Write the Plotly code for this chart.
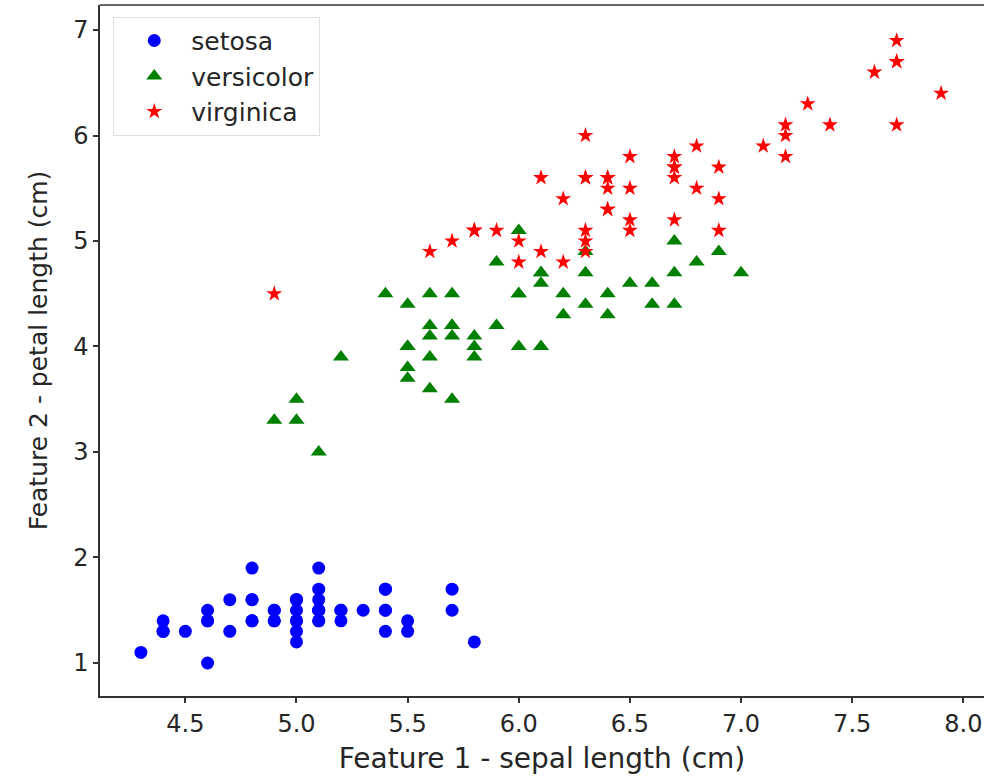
import plotly.graph_objects as go

setosa_x = [5.1,4.9,4.7,4.6,5.0,5.4,4.6,5.0,4.4,4.9,5.4,4.8,4.8,4.3,5.8,5.7,5.4,5.1,5.7,5.1,
            5.4,5.1,4.6,5.1,4.8,5.0,5.0,5.2,5.2,4.7,4.8,5.4,5.2,5.5,4.9,5.0,5.5,4.9,4.4,5.1,
            5.0,4.5,4.4,5.0,5.1,4.8,5.1,4.6,5.3,5.0]
setosa_y = [1.4,1.4,1.3,1.5,1.4,1.7,1.4,1.5,1.4,1.5,1.5,1.6,1.4,1.1,1.2,1.5,1.3,1.4,1.7,1.5,
            1.7,1.5,1.0,1.7,1.9,1.6,1.6,1.5,1.4,1.6,1.6,1.5,1.5,1.4,1.5,1.2,1.3,1.4,1.3,1.5,
            1.3,1.3,1.3,1.6,1.9,1.4,1.6,1.4,1.5,1.4]
versicolor_x = [7.0,6.4,6.9,5.5,6.5,5.7,6.3,4.9,6.6,5.2,5.0,5.9,6.0,6.1,5.6,6.7,5.6,5.8,6.2,5.6,
                5.9,6.1,6.3,6.1,6.4,6.6,6.8,6.7,6.0,5.7,5.5,5.5,5.8,6.0,5.4,6.0,6.7,6.3,5.6,5.5,
                5.5,6.1,5.8,5.0,5.6,5.7,5.7,6.2,5.1,5.7]
versicolor_y = [4.7,4.5,4.9,4.0,4.6,4.5,4.7,3.3,4.6,3.9,3.5,4.2,4.0,4.7,3.6,4.4,4.5,4.1,4.5,3.9,
                4.8,4.0,4.9,4.7,4.3,4.4,4.8,5.0,4.5,3.5,3.8,3.7,3.9,5.1,4.5,4.5,4.7,4.4,4.1,4.0,
                4.4,4.6,4.0,3.3,4.2,4.2,4.2,4.3,3.0,4.1]
virginica_x = [6.3,5.8,7.1,6.3,6.5,7.6,4.9,7.3,6.7,7.2,6.5,6.4,6.8,5.7,5.8,6.4,6.5,7.7,7.7,6.0,
               6.9,5.6,7.7,6.3,6.7,7.2,6.2,6.1,6.4,7.2,7.4,7.9,6.4,6.3,6.1,7.7,6.3,6.4,6.0,6.9,
               6.7,6.9,5.8,6.8,6.7,6.7,6.3,6.5,6.2,5.9]
virginica_y = [6.0,5.1,5.9,5.6,5.8,6.6,4.5,6.3,5.8,6.1,5.1,5.3,5.5,5.0,5.1,5.3,5.5,6.7,6.9,5.0,
               5.7,4.9,6.7,4.9,5.7,6.0,4.8,4.9,5.6,5.8,6.1,6.4,5.6,5.1,5.6,6.1,5.6,5.5,4.8,5.4,
               5.6,5.1,5.1,5.9,5.7,5.2,5.0,5.2,5.4,5.1]

x_ticks = [4.5, 5.0, 5.5, 6.0, 6.5, 7.0, 7.5, 8.0]
x_labels = ["4.5", "5.0", "5.5", "6.0", "6.5", "7.0", "7.5", "8.0"]
y_ticks = [1, 2, 3, 4, 5, 6, 7]

FONT = "DejaVu Sans"
TXT = "#262626"

fig = go.Figure()
fig.add_trace(go.Scatter(x=setosa_x, y=setosa_y, mode="markers", name="setosa",
                         marker=dict(symbol="circle", size=13, color="blue")))
fig.add_trace(go.Scatter(x=versicolor_x, y=versicolor_y, mode="markers", name="versicolor",
                         marker=dict(symbol="triangle-up", size=14, color="green")))
fig.add_trace(go.Scatter(x=virginica_x, y=virginica_y, mode="markers", name="virginica",
                         marker=dict(symbol="star", size=12, color="red")))

fig.update_layout(
    width=984, height=777,
    margin=dict(l=100, r=0, t=5, b=81),
    plot_bgcolor="white", paper_bgcolor="white",
    font=dict(family=FONT, color=TXT),
    showlegend=True,
    legend=dict(x=0.015, y=0.983, xanchor="left", yanchor="top",
                bgcolor="rgba(255,255,255,0.8)", bordercolor="#e0e0e0", borderwidth=1,
                font=dict(family=FONT, size=25, color=TXT), itemwidth=64,
                indentation=3, traceorder="normal"),
    shapes=[dict(type="line", xref="paper", yref="paper", x0=0, x1=1, y0=1, y1=1,
                 line=dict(color="#333333", width=1.5))],
)
fig.update_xaxes(range=[4.116, 8.093], tickvals=x_ticks, ticktext=x_labels,
                 showgrid=False, zeroline=False, showline=True, linecolor="#333333", linewidth=1.5,
                 ticks="outside", ticklen=5, tickwidth=1.5, tickcolor="#333333",
                 tickfont=dict(family=FONT, size=24, color=TXT),
                 title=dict(text="Feature 1 - sepal length (cm)", font=dict(family=FONT, size=28, color=TXT), standoff=12))
fig.update_yaxes(range=[0.687, 7.237], tickvals=y_ticks,
                 showgrid=False, zeroline=False, showline=True, linecolor="#333333", linewidth=1.5,
                 ticks="outside", ticklen=5, tickwidth=1.5, tickcolor="#333333",
                 tickfont=dict(family=FONT, size=24, color=TXT),
                 title=dict(text="Feature 2 - petal length (cm)", font=dict(family=FONT, size=25, color=TXT), standoff=18))

fig.write_html("out.html")
